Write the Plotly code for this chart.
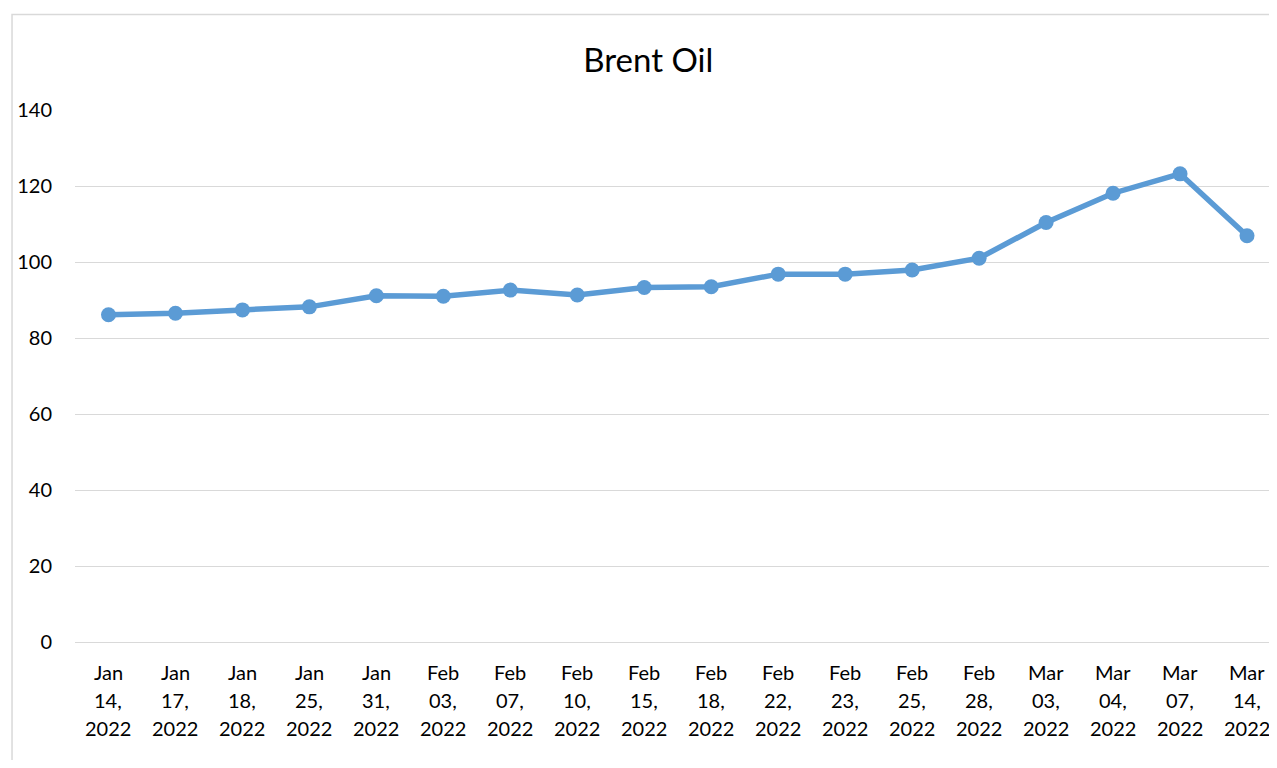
import plotly.graph_objects as go

dates = ["Jan 14, 2022", "Jan 17, 2022", "Jan 18, 2022", "Jan 25, 2022", "Jan 31, 2022",
         "Feb 03, 2022", "Feb 07, 2022", "Feb 10, 2022", "Feb 15, 2022", "Feb 18, 2022",
         "Feb 22, 2022", "Feb 23, 2022", "Feb 25, 2022", "Feb 28, 2022", "Mar 03, 2022",
         "Mar 04, 2022", "Mar 07, 2022", "Mar 14, 2022"]
prices = [86.1, 86.5, 87.4, 88.2, 91.1, 91.0, 92.6, 91.3, 93.3, 93.5,
          96.8, 96.8, 97.9, 101.0, 110.4, 118.1, 123.2, 106.9]
y_ticks = [0, 20, 40, 60, 80, 100, 120, 140]

FONT = "Lato"
COLOR = "#5B9BD5"

W, H = 1269, 752          # figure placed after the page's 8px body margin
L, T, B = 66.5, 102, 118  # plot area margins
PW = W - L
PH = H - T - B

idx = list(range(len(dates)))

fig = go.Figure()
fig.add_trace(go.Scatter(
    x=idx, y=prices, mode="lines+markers",
    line=dict(color=COLOR, width=5.5),
    marker=dict(color=COLOR, size=15),
    cliponaxis=False, showlegend=False, hoverinfo="y",
))

# multi-line category labels (three rows each)
annotations = []
for i, d in enumerate(dates):
    mon, rest = d.split(" ", 1)
    day, yr = rest.split(" ")
    for k, part in enumerate([mon, day, yr]):
        annotations.append(dict(
            x=i, y=0, xref="x", yref="paper", text=part, showarrow=False,
            xanchor="center", yanchor="middle", yshift=-30 - 28 * k,
            font=dict(family=FONT, size=20, color="#000000"),
        ))

fig.update_layout(
    width=W, height=H,
    margin=dict(l=L, r=0, t=T, b=B, pad=0),
    paper_bgcolor="white", plot_bgcolor="white",
    title=dict(text="Brent Oil", x=(640 - L) / PW, xref="paper", xanchor="center",
               y=1 - 52 / H, yanchor="middle",
               font=dict(family=FONT, size=33, color="#000000")),
    font=dict(family=FONT, size=20, color="#000000"),
    annotations=annotations,
    shapes=[dict(type="rect", xref="paper", yref="paper",
                 x0=(3.5 - L) / PW, x1=1.2, y0=-0.5, y1=(T + PH - 6.5) / PH,
                 line=dict(color="#d9d9d9", width=1.5), fillcolor="rgba(0,0,0,0)", layer="below")],
)
fig.update_xaxes(
    range=[-0.5, -0.5 + PW / 67.0], tickvals=idx, showticklabels=False,
    showgrid=False, zeroline=False, showline=False, ticks="",
)
fig.update_yaxes(
    range=[0, 140], tickvals=y_ticks, ticktext=[str(v) for v in y_ticks],
    showgrid=True, gridcolor="#d9d9d9", gridwidth=1.3,
    zeroline=True, zerolinecolor="#d9d9d9", zerolinewidth=1.3,
    showline=False, ticks="", ticklabelstandoff=22,
    tickfont=dict(family=FONT, size=20, color="#000000"),
)

fig.write_html("out.html")
